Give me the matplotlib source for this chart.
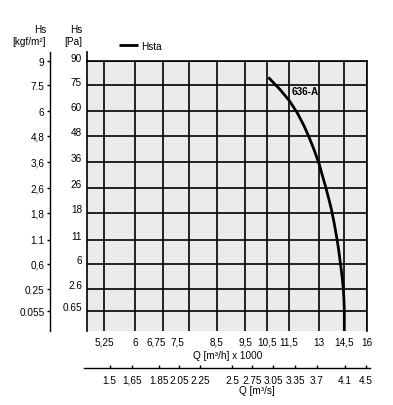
import numpy as np
import matplotlib
matplotlib.use("Agg")
import matplotlib.pyplot as plt
import matplotlib.transforms as mtrans
from matplotlib.lines import Line2D

plt.rcParams['font.family'] = ['Liberation Sans', 'DejaVu Sans']
plt.rcParams['font.size'] = 7.2

# data
q_ticks = [5.25, 6, 6.75, 7.5, 8.5, 9.5, 10.5, 11.5, 13, 14.5, 16]          # Q [m3/h] x 1000
q_labels = ['5,25', '6', '6,75', '7,5', '8,5', '9,5', '10,5', '11,5', '13', '14,5', '16']
pa_ticks = [90, 75, 60, 48, 36, 26, 18, 11, 6, 2.6, 0.65]                  # Hs [Pa]
pa_labels = ['90', '75', '60', '48', '36', '26', '18', '11', '6', '2.6', '0.65']
kgf_labels = ['9', '7.5', '6', '4,8', '3,6', '2,6', '1,8', '1.1', '0,6', '0.25', '0.055']
ms_ticks = [1.5, 1.65, 1.85, 2.05, 2.25, 2.5, 2.75, 3.05, 3.35, 3.7, 4.1, 4.5]
ms_labels = ['1.5', '1,65', '1.85', '2.05', '2.25', '2.5', '2.75', '3.05', '3.35', '3.7', '4.1', '4.5']

# curve 636-A (Hsta)
curve_q = [10.56, 11.07, 11.52, 11.92, 12.25, 12.50, 12.74, 13.01, 13.21, 13.40, 13.59,
           13.74, 13.92, 14.08, 14.19, 14.29, 14.39, 14.46, 14.50, 14.52, 14.52]
curve_h = [79.8, 72.7, 65.9, 59.0, 52.9, 47.5, 42.0, 35.2, 30.5, 26.2, 22.4,
           19.25, 15.1, 11.1, 8.65, 6.0, 4.23, 2.6, 1.54, 0.62, 0.0]

# layout (pixel positions of the printed, non-uniform grid)
W, H = 393, 406
col_px = [104, 135, 163, 189, 217, 245, 267, 289, 319, 344, 367]
row_px = [62, 86, 112, 137, 163, 188.5, 214, 240.5, 265, 290, 312]
ms_px = [109.7, 132, 158.7, 179, 200, 232, 251.7, 273.3, 295, 317, 345, 366]
left_px, right_px, top_px, bottom_px = 87, 367, 62, 332
label_shift = {'6,75': -7, '7,5': -12}


def piecewise(vals, pos):
    v = np.asarray(vals, float)
    p = np.asarray(pos, float)
    o = np.argsort(v)
    v, p = v[o], p[o]

    def lin(x, a, b):
        x = np.asarray(x, float)
        y = np.interp(x, a, b)
        y = np.where(x < a[0], b[0] + (x - a[0]) * (b[1] - b[0]) / (a[1] - a[0]), y)
        y = np.where(x > a[-1], b[-1] + (x - a[-1]) * (b[-1] - b[-2]) / (a[-1] - a[-2]), y)
        return y

    return (lambda x: lin(x, v, p)), (lambda y: lin(y, p, v))


fx, ix = piecewise(q_ticks, col_px)
fy, iy = piecewise(pa_ticks + [0], [-r for r in row_px] + [-bottom_px])
fm_, im_ = piecewise(ms_ticks, ms_px)

fig = plt.figure(figsize=(W / 100, H / 100), dpi=100)
ax = fig.add_axes([left_px / W, 1 - bottom_px / H, (right_px - left_px) / W, (bottom_px - top_px) / H])
ax.set_facecolor("#ebecea")
ax.set_xscale('function', functions=(fx, ix))
ax.set_yscale('function', functions=(fy, iy))
ax.set_xlim(float(ix(left_px)), 16)
ax.set_ylim(0, 90)

ax.set_xticks(q_ticks)
ax.set_xticklabels(q_labels)
ax.set_yticks(pa_ticks)
ax.set_yticklabels(pa_labels)
ax.grid(True, color="black", lw=1.2)
ax.set_axisbelow(True)
ax.tick_params(axis='x', length=0, pad=4)
ax.tick_params(axis='y', length=0, pad=3.5)
for s in ["top", "right", "left"]:
    ax.spines[s].set_color("black")
    ax.spines[s].set_linewidth(1.2)
ax.spines["bottom"].set_visible(False)
for lab in ax.get_yticklabels():
    lab.set_va('bottom')
    lab.set_transform(lab.get_transform() + mtrans.ScaledTranslation(0, -1.5 / 100, fig.dpi_scale_trans))
for lab in ax.get_xticklabels():
    if lab.get_text() in label_shift:
        dx = label_shift[lab.get_text()] / 100
        lab.set_transform(lab.get_transform() + mtrans.ScaledTranslation(dx, 0, fig.dpi_scale_trans))

# kgf/m2 axis
ax2 = ax.twinx()
ax2.set_yscale('function', functions=(fy, iy))
ax2.set_ylim(0, 90)
ax2.set_yticks(pa_ticks)
ax2.set_yticklabels(kgf_labels)
ax2.yaxis.set_ticks_position('left')
for s in ["top", "right", "bottom"]:
    ax2.spines[s].set_visible(False)
ax2.spines["left"].set_visible(True)
ax2.spines["left"].set_position(('outward', 37 * 0.72))
ax2.spines["left"].set_linewidth(1.0)
ax2.tick_params(axis='y', length=2, width=1.0, pad=2)

# axis lines reaching above the grid
for x in (left_px, 50):
    fig.add_artist(Line2D([x / W, x / W], [1 - 53 / H, 1 - top_px / H], color="black",
                          lw=1.2 if x == left_px else 1.0, transform=fig.transFigure))

# curve
ax.plot(curve_q, curve_h, color="black", lw=2, label="Hsta", solid_capstyle="butt")
ax.text(11.65, 71.5, "636-A", fontweight="bold", ha="left", va="center")
ax.legend(loc="center left", bbox_to_anchor=(119 / W, 1 - 46.5 / H), bbox_transform=fig.transFigure,
          frameon=False, handlelength=1.9, handletextpad=0.35, borderpad=0, borderaxespad=0)

# headers
fig.text(46 / W, 1 - 30 / H, "Hs", ha="right", va="center")
fig.text(46 / W, 1 - 42 / H, "[kgf/m²]", ha="right", va="center")
fig.text(82 / W, 1 - 30 / H, "Hs", ha="right", va="center")
fig.text(82 / W, 1 - 42 / H, "[Pa]", ha="right", va="center")
fig.text(228 / W, 1 - 356.5 / H, "Q [m³/h] x 1000", ha="center", va="center")

# m3/s axis
ax3 = fig.add_axes([84 / W, 1 - 369 / H, (370 - 84) / W, 0.0001])
ax3.patch.set_visible(False)
ax3.set_xscale('function', functions=(fm_, im_))
ax3.set_xlim(float(im_(84)), float(im_(370)))
ax3.set_xticks(ms_ticks)
ax3.set_xticklabels(ms_labels)
ax3.set_yticks([])
for s in ["top", "right", "left"]:
    ax3.spines[s].set_visible(False)
ax3.spines["bottom"].set_linewidth(1.0)
ax3.tick_params(axis='x', direction='in', length=2, width=1.0, pad=5)
fig.text(256.7 / W, 1 - 391.5 / H, "Q [m³/s]", ha="center", va="center")

fig.savefig("out.png", dpi=100)
plt.close("all")
